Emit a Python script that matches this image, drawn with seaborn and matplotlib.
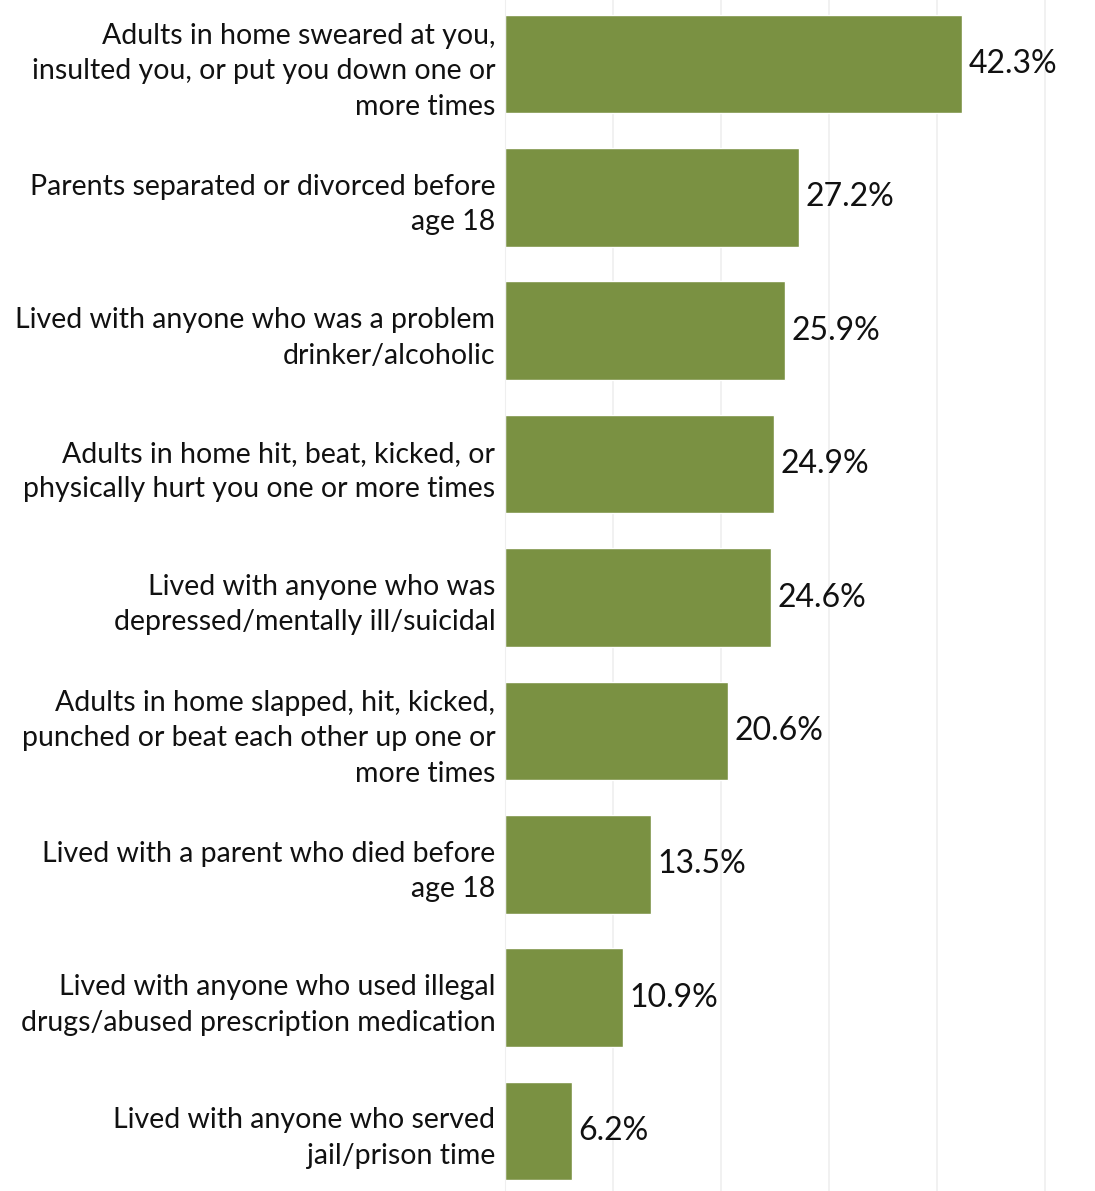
import pandas as pd
import seaborn as sns
import matplotlib.pyplot as plt

categories = [
    "Adults in home sweared at you,\ninsulted you, or put you down one or\nmore times",
    "Parents separated or divorced before\nage 18",
    "Lived with anyone who was a problem\ndrinker/alcoholic",
    "Adults in home hit, beat, kicked, or\nphysically hurt you one or more times",
    "Lived with anyone who was\ndepressed/mentally ill/suicidal",
    "Adults in home slapped, hit, kicked,\npunched or beat each other up one or\nmore times",
    "Lived with a parent who died before\nage 18",
    "Lived with anyone who used illegal\ndrugs/abused prescription medication",
    "Lived with anyone who served\njail/prison time",
]
values = [42.3, 27.2, 25.9, 24.9, 24.6, 20.6, 13.5, 10.9, 6.2]

df = pd.DataFrame({"category": categories, "pct": values})

sns.set_style("white")
plt.rcParams["font.family"] = ["Lato", "DejaVu Sans"]

fig = plt.figure(figsize=(10.95, 11.91), dpi=100)
ax = fig.add_axes([505 / 1095, 0, 590 / 1095, 1])

sns.barplot(data=df, x="pct", y="category", color="#7a9142", width=0.74,
            saturation=1, ax=ax)

ax.set_xlim(0, 54.6)
ax.set_ylim(len(values) - 0.55, -0.48)
ax.set_xticks([10, 20, 30, 40, 50])
ax.grid(axis="x", color="#efefef", linewidth=1.2)
ax.set_axisbelow(True)
ax.tick_params(axis="x", length=0, labelbottom=False)
ax.tick_params(axis="y", length=0, pad=7)
ax.set_xlabel("")
ax.set_ylabel("")
for s in ["top", "right", "bottom"]:
    ax.spines[s].set_visible(False)
ax.spines["left"].set_color("#efefef")

for lbl in ax.get_yticklabels():
    lbl.set_fontsize(20.5)
    lbl.set_multialignment("right")
    lbl.set_linespacing(1.45)
    lbl.set_color("#111111")

for i, v in enumerate(values):
    ax.text(v + 0.6, i, f"{v}%", va="center", ha="left", fontsize=23, color="#111111")

fig.savefig("out.png", dpi=100)
